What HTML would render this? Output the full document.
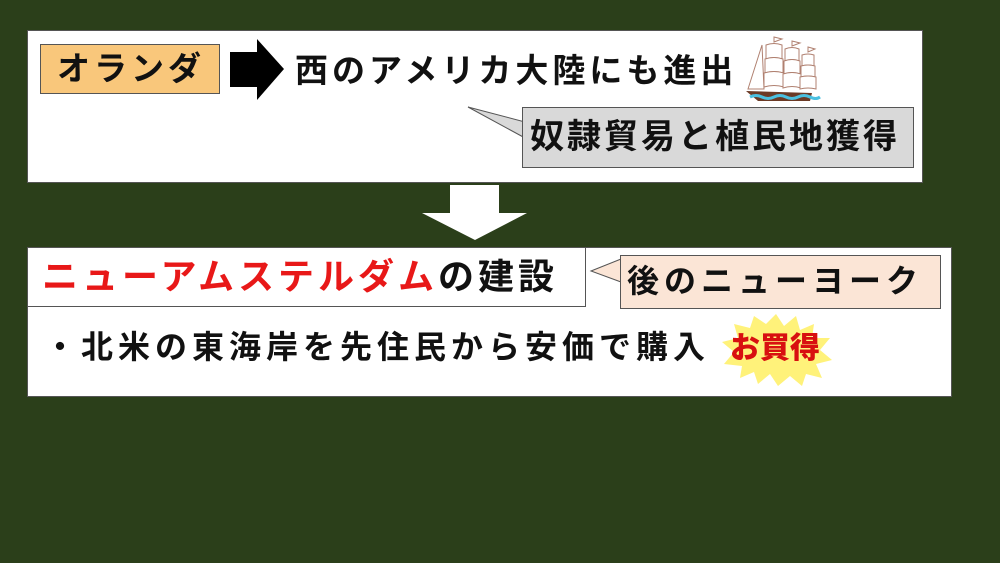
<!DOCTYPE html>
<html><head><meta charset="utf-8"><style>
body{margin:0;width:1000px;height:563px;background:#2b3f1a;position:relative;overflow:hidden;font-family:"Liberation Sans","Noto Sans CJK JP",sans-serif;font-weight:bold;color:#111}
.a{position:absolute;box-sizing:border-box}
.t{position:absolute;white-space:nowrap;line-height:1}
</style></head><body>
<div class="a" style="left:27px;top:30px;width:896px;height:153px;background:#fff;border:1px solid #555"></div>
<div class="a" style="left:40px;top:44px;width:180px;height:50px;background:#f9c77b;border:1px solid #555"></div>
<div class="t" style="left:57px;top:52px;font-size:33px;letter-spacing:4px">オランダ</div>
<svg class="a" style="left:229px;top:38px" width="58" height="64"><polygon points="1,14 28,14 28,1 55,31 28,62 28,49 1,49" fill="#000"/></svg>
<div class="t" style="left:295px;top:54px;font-size:33px;letter-spacing:4px">西のアメリカ大陸にも進出</div>
<svg class="a" style="left:740px;top:35px" width="82" height="68">
<path d="M6,56 L72,58 L70,66 L18,66 Z" fill="#6b3a26"/>
<path d="M10,62 q6,-3 12,0 q6,3 12,0 q6,-3 12,0 q6,3 12,0 q6,-3 12,0 q6,3 10,0" stroke="#4ac0e0" stroke-width="3" fill="none"/>
<g fill="#fff" stroke="#b08070" stroke-width="1">
<path d="M8,54 L22,10 L24,54 Z"/>
<path d="M26,10 q8,-3 16,0 v14 q-8,-3 -16,0z"/><path d="M25,24 q9,-3 18,0 v14 q-9,-3 -18,0z"/><path d="M24,38 q10,-3 20,0 v14 q-10,-3 -20,0z"/>
<path d="M45,14 q7,-3 14,0 v12 q-7,-3 -14,0z"/><path d="M44,26 q8,-3 16,0 v13 q-8,-3 -16,0z"/><path d="M43,39 q9,-3 18,0 v14 q-9,-3 -18,0z"/>
<path d="M62,20 q6,-2 12,0 v11 q-6,-2 -12,0z"/><path d="M61,31 q7,-2 14,0 v11 q-7,-2 -14,0z"/><path d="M60,42 q8,-2 16,0 v12 q-8,-2 -16,0z"/>
<path d="M34,2 l8,2 l-8,3z M52,6 l8,2 l-8,3z M68,12 l7,2 l-7,3z"/>
</g></svg>
<svg class="a" style="left:465px;top:104px" width="70" height="40"><polygon points="3,3 60,18 60,34" fill="#d9d9d9" stroke="#555" stroke-width="1"/></svg>
<div class="a" style="left:522px;top:107px;width:392px;height:61px;background:#d9d9d9;border:1px solid #555"></div>
<div class="a" style="left:523px;top:120px;width:3px;height:20px;background:#d9d9d9"></div>
<div class="t" style="left:530px;top:120px;font-size:34px;letter-spacing:3px">奴隷貿易と植民地獲得</div>
<svg class="a" style="left:420px;top:184px" width="110" height="58"><polygon points="30,1 79,1 79,29 107,29 55,56 2,29 30,29" fill="#fff"/></svg>
<div class="a" style="left:27px;top:247px;width:925px;height:150px;background:#fff;border:1px solid #555"></div>
<div class="a" style="left:27px;top:247px;width:559px;height:60px;background:#fff;border:1px solid #555"></div>
<div class="t" style="left:42px;top:259px;font-size:36px;letter-spacing:4px"><span style="color:#e81818">ニューアムステルダム</span>の建設</div>
<svg class="a" style="left:588px;top:254px" width="40" height="40"><polygon points="3,17 33,5 33,28" fill="#fbe5d6" stroke="#555" stroke-width="1"/></svg>
<div class="a" style="left:620px;top:255px;width:321px;height:54px;background:#fbe5d6;border:1px solid #555"></div>
<div class="a" style="left:621px;top:259px;width:3px;height:23px;background:#fbe5d6"></div>
<div class="t" style="left:627px;top:265px;font-size:32px;letter-spacing:5px">後のニューヨーク</div>
<div class="t" style="left:44px;top:331px;font-size:32px;letter-spacing:5px">・北米の東海岸を先住民から安価で購入</div>
<svg class="a" style="left:718px;top:312px" width="116" height="76"><polygon points="58,2 66,14 78,4 82,18 96,12 94,26 112,26 102,38 114,48 98,52 104,66 88,62 84,74 72,64 60,74 52,62 40,72 36,60 22,66 24,54 6,52 16,40 4,30 20,26 16,12 32,16 36,4 48,12" fill="#fff27a"/></svg>
<div class="t" style="left:730px;top:334px;font-size:30px;color:#d81010;font-weight:900">お買得</div>
</body></html>
